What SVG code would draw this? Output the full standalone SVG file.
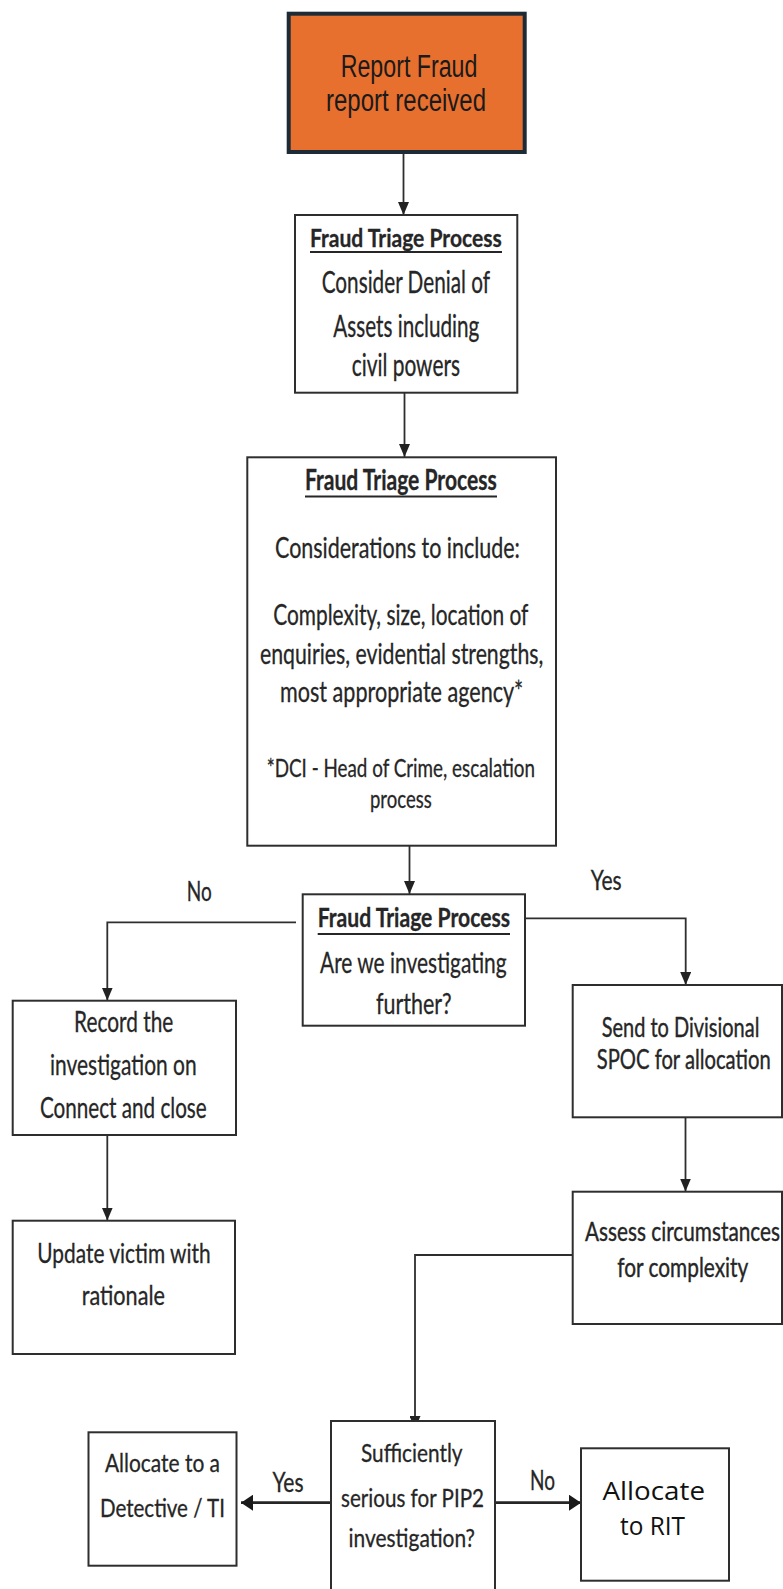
<svg xmlns="http://www.w3.org/2000/svg" width="783" height="1589" viewBox="0 0 783 1589">
<style>
.box{fill:#ffffff;stroke:#2e2e2e;stroke-width:2}
.t{font-family:Lato,"Liberation Sans",sans-serif;fill:#262626;stroke:#262626;stroke-width:0.3}
.b{font-weight:bold}
.ul{stroke:#262626;stroke-width:1.8}
.c{fill:none;stroke:#2e2e2e;stroke-width:1.8}
.ct{fill:none;stroke:#262626;stroke-width:2.8}
</style>
<defs>
<marker id="ah" markerUnits="userSpaceOnUse" markerWidth="13" markerHeight="11" refX="13" refY="5.5" orient="auto"><path d="M0,0 L13,5.5 L0,11 z" fill="#222"/></marker>
<marker id="ahb" markerUnits="userSpaceOnUse" markerWidth="12" markerHeight="16" refX="12" refY="8" orient="auto"><path d="M0,0 L12,8 L0,16 z" fill="#1a1a1a"/></marker>
</defs>
<rect width="783" height="1589" fill="#ffffff"/>
<g id="connectors">
<path class="c" d="M403.5,154 V215" marker-end="url(#ah)"/>
<path class="c" d="M404.5,392.7 V457" marker-end="url(#ah)"/>
<path class="c" d="M409.5,845.7 V894" marker-end="url(#ah)"/>
<path class="c" d="M296,922.3 H107.3 V1000.5" marker-end="url(#ah)"/>
<path class="c" d="M107.3,1135 V1220.5" marker-end="url(#ah)"/>
<path class="c" d="M525,918.3 H685.7 V985" marker-end="url(#ah)"/>
<path class="c" d="M685.5,1117.3 V1191.5" marker-end="url(#ah)"/>
<path class="c" d="M572.7,1255 H415 V1429" marker-end="url(#ah)"/>
<path class="ct" d="M331,1502.7 H241" marker-end="url(#ahb)"/>
<path class="ct" d="M495,1502.7 H581" marker-end="url(#ahb)"/>
<text class="t" x="186.7" y="900.7" font-size="27" textLength="25" lengthAdjust="spacingAndGlyphs">No</text>
<text class="t" x="590.7" y="890" font-size="27" textLength="31" lengthAdjust="spacingAndGlyphs">Yes</text>
<text class="t" x="272.5" y="1491.7" font-size="27" textLength="31" lengthAdjust="spacingAndGlyphs">Yes</text>
<text class="t" x="530" y="1490" font-size="26" textLength="25" lengthAdjust="spacingAndGlyphs">No</text>
</g>
<g id="start">
<rect x="288.7" y="13.7" width="236" height="138.3" fill="#E8702F" stroke="#1C2B36" stroke-width="4"/>
<text x="340.7" y="77.3" font-family="'Liberation Sans',Arial,sans-serif" font-size="31" fill="#1a1a1a" textLength="136.7" lengthAdjust="spacingAndGlyphs">Report Fraud</text>
<text x="326" y="110.7" font-family="'Liberation Sans',Arial,sans-serif" font-size="31" fill="#1a1a1a" textLength="160" lengthAdjust="spacingAndGlyphs">report received</text>
</g>
<g id="triage1">
<rect class="box" x="295" y="215" width="222.3" height="177.7"/>
<text class="t b" x="310" y="246.7" font-size="25" textLength="191.7" lengthAdjust="spacingAndGlyphs">Fraud Triage Process</text>
<line class="ul" x1="310" y1="252" x2="502" y2="252"/>
<text class="t" x="321.7" y="292.7" font-size="30" textLength="168.3" lengthAdjust="spacingAndGlyphs">Consider Denial of</text>
<text class="t" x="333.3" y="337" font-size="30" textLength="146" lengthAdjust="spacingAndGlyphs">Assets including</text>
<text class="t" x="351.7" y="376" font-size="30" textLength="108.3" lengthAdjust="spacingAndGlyphs">civil powers</text>
</g>
<g id="triage2">
<rect class="box" x="247.3" y="457.3" width="308.7" height="388.4"/>
<text class="t b" x="305" y="490" font-size="28.5" textLength="191.7" lengthAdjust="spacingAndGlyphs">Fraud Triage Process</text>
<line class="ul" x1="305" y1="496.5" x2="497" y2="496.5"/>
<text class="t" x="275" y="558.3" font-size="29" textLength="245" lengthAdjust="spacingAndGlyphs">Considerations to include:</text>
<text class="t" x="273.3" y="625" font-size="29" textLength="255" lengthAdjust="spacingAndGlyphs">Complexity, size, location of</text>
<text class="t" x="260" y="664" font-size="29" textLength="283.3" lengthAdjust="spacingAndGlyphs">enquiries, evidential strengths,</text>
<text class="t" x="280" y="701.7" font-size="29" textLength="243.3" lengthAdjust="spacingAndGlyphs">most appropriate agency*</text>
<text class="t" x="266.7" y="776.7" font-size="25" textLength="268.3" lengthAdjust="spacingAndGlyphs">*DCI - Head of Crime, escalation</text>
<text class="t" x="370" y="808.3" font-size="25" textLength="61.7" lengthAdjust="spacingAndGlyphs">process</text>
</g>
<g id="decision1">
<rect class="box" x="302.7" y="894.3" width="222.3" height="131.4"/>
<text class="t b" x="317.7" y="926.7" font-size="26" textLength="192.3" lengthAdjust="spacingAndGlyphs">Fraud Triage Process</text>
<line class="ul" x1="317.7" y1="934" x2="510" y2="934"/>
<text class="t" x="320" y="973.3" font-size="29" textLength="186.7" lengthAdjust="spacingAndGlyphs">Are we investigating</text>
<text class="t" x="376" y="1014" font-size="29" textLength="75.7" lengthAdjust="spacingAndGlyphs">further?</text>
</g>
<g id="record">
<rect class="box" x="12.7" y="1000.7" width="223.3" height="134.3"/>
<text class="t" x="74" y="1031.7" font-size="28" textLength="99.3" lengthAdjust="spacingAndGlyphs">Record the</text>
<text class="t" x="50" y="1075" font-size="28" textLength="146.7" lengthAdjust="spacingAndGlyphs">investigation on</text>
<text class="t" x="40" y="1118.3" font-size="28" textLength="166.7" lengthAdjust="spacingAndGlyphs">Connect and close</text>
</g>
<g id="update">
<rect class="box" x="12.7" y="1220.7" width="222.3" height="133.3"/>
<text class="t" x="37.3" y="1263.3" font-size="27" textLength="173.3" lengthAdjust="spacingAndGlyphs">Update victim with</text>
<text class="t" x="81.7" y="1305" font-size="27" textLength="83.3" lengthAdjust="spacingAndGlyphs">rationale</text>
</g>
<g id="send">
<rect class="box" x="572.7" y="985" width="209.3" height="132.3"/>
<text class="t" transform="translate(601.7,1036.7) scale(1,1.34)" font-size="20.5" textLength="157.7" lengthAdjust="spacingAndGlyphs">Send to Divisional</text>
<text class="t" transform="translate(596.7,1069.3) scale(1,1.34)" font-size="20.5" textLength="174" lengthAdjust="spacingAndGlyphs">SPOC for allocation</text>
</g>
<g id="assess">
<rect class="box" x="572.7" y="1191.7" width="209.3" height="132.3"/>
<text class="t" transform="translate(585,1240.7) scale(1,1.32)" font-size="20.5" textLength="195" lengthAdjust="spacingAndGlyphs">Assess circumstances</text>
<text class="t" transform="translate(617.3,1277) scale(1,1.32)" font-size="20.5" textLength="131" lengthAdjust="spacingAndGlyphs">for complexity</text>
</g>
<g id="decision2">
<rect class="box" x="331" y="1421" width="164" height="180"/>
<text class="t" x="361" y="1461.7" font-size="25" textLength="101.5" lengthAdjust="spacingAndGlyphs">Sufficiently</text>
<text class="t" x="341" y="1506.7" font-size="25" textLength="143" lengthAdjust="spacingAndGlyphs">serious for PIP2</text>
<text class="t" x="348.5" y="1546.7" font-size="25" textLength="126.5" lengthAdjust="spacingAndGlyphs">investigation?</text>
</g>
<g id="detective">
<rect class="box" x="88.5" y="1432.3" width="148" height="133.4"/>
<text class="t" x="105" y="1471.7" font-size="25" textLength="115" lengthAdjust="spacingAndGlyphs">Allocate to a</text>
<text class="t" x="100" y="1516.7" font-size="25" textLength="125" lengthAdjust="spacingAndGlyphs">Detective / TI</text>
</g>
<g id="rit">
<rect class="box" x="581" y="1448.3" width="148" height="132.4"/>
<text x="602.5" y="1500" font-family="'Open Sans','Noto Sans',sans-serif" font-size="25" fill="#111" textLength="102.5" lengthAdjust="spacingAndGlyphs">Allocate</text>
<text x="620" y="1535" font-family="'Open Sans','Noto Sans',sans-serif" font-size="25" fill="#111" textLength="65" lengthAdjust="spacingAndGlyphs">to RIT</text>
</g>
</svg>
